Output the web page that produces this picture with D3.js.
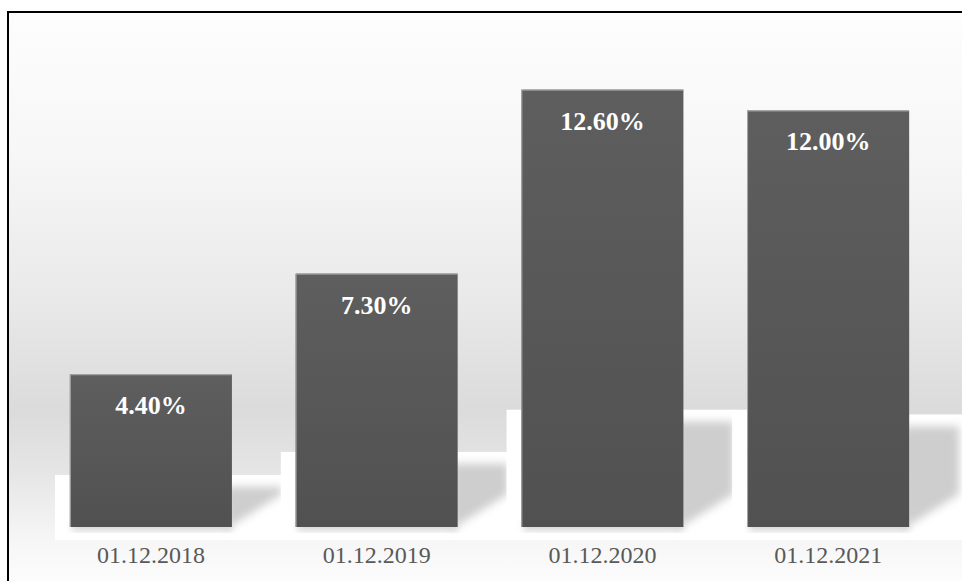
<!DOCTYPE html>
<html>
<head>
<meta charset="utf-8">
<script src="https://cdn.jsdelivr.net/npm/d3@7"></script>
<style>
  html, body { margin: 0; padding: 0; background: #fff; overflow: hidden; }
  svg { display: block; }
</style>
</head>
<body>
<svg id="chart"></svg>
<script>
var width = 962
var height = 581

// values
var categories = ["01.12.2018", "01.12.2019", "01.12.2020", "01.12.2021"]
var values = [4.4, 7.3, 12.6, 12.0]
var yDomain = [0, 14]

var baseY = 527

var x = d3.scaleBand()
  .domain(categories)
  .range([38, 941])
  .paddingInner(0.282)
  .paddingOuter(0.141)

var y = d3.scaleLinear()
  .domain(yDomain)
  .range([baseY, 41])

var svg = d3.select("#chart")
  .attr("width", width)
  .attr("height", height)

var defs = svg.append("defs")

// background gradient: light at the top, grey behind the bar bottoms, light again below
var bg = defs.append("linearGradient")
  .attr("id", "bgGrad")
  .attr("gradientUnits", "userSpaceOnUse")
  .attr("x1", 0).attr("y1", 12).attr("x2", 0).attr("y2", height)
var bgStops = [[12, "#fdfdfd"], [150, "#f7f7f7"], [300, "#e9e9e9"], [410, "#dbdbdb"], [470, "#e5e5e5"], [540, "#f6f6f6"], [581, "#fcfcfc"]]
bgStops.forEach(function(s){
  bg.append("stop").attr("offset", (s[0] - 12) / (height - 12)).attr("stop-color", s[1])
})

var barGrad = defs.append("linearGradient")
  .attr("id", "barGrad")
  .attr("x1", 0).attr("y1", 0).attr("x2", 0).attr("y2", 1)
barGrad.append("stop").attr("offset", 0).attr("stop-color", "#5e5e5e")
barGrad.append("stop").attr("offset", 1).attr("stop-color", "#515151")

defs.append("filter")
  .attr("id", "blur")
  .attr("x", "-20%").attr("y", "-20%").attr("width", "140%").attr("height", "140%")
  .append("feGaussianBlur").attr("stdDeviation", 4)

defs.append("filter")
  .attr("id", "blurSmall")
  .attr("x", "-20%").attr("y", "-20%").attr("width", "140%").attr("height", "140%")
  .append("feGaussianBlur").attr("stdDeviation", 3)

svg.append("rect")
  .attr("x", 0).attr("y", 0)
  .attr("width", width).attr("height", height)
  .attr("fill", "#fff")

svg.append("rect")
  .attr("x", 8).attr("y", 12)
  .attr("width", width).attr("height", height)
  .attr("fill", "url(#bgGrad)")

// floor backdrop + cast shadow for each bar, drawn in order so the next backdrop covers the previous shadow
function floorTop(v){
  var h = baseY - y(v)
  return baseY - 17 - 0.23 * h
}

categories.forEach(function(c, i){
  var left = x(c)
  var right = left + x.bandwidth()
  var top = floorTop(values[i])

  defs.append("clipPath")
    .attr("id", "floorClip" + i)
    .append("rect")
    .attr("x", left - 15).attr("y", top)
    .attr("width", x.bandwidth() + 15 + 70).attr("height", 540 - top)

  var g = svg.append("g").attr("clip-path", "url(#floorClip" + i + ")")

  g.append("rect")
    .attr("x", left - 15).attr("y", top)
    .attr("width", x.bandwidth() + 15 + 70).attr("height", 540 - top)
    .attr("fill", "#ffffff")

  var sTop = top + 12
  var pts = [[right - 6, sTop], [right + 50, sTop], [right + 50, 494], [right - 6, baseY + 2]]
  g.append("polygon")
    .attr("points", pts.map(function(p){ return p.join(",") }).join(" "))
    .attr("fill", "#cecece")
    .attr("filter", "url(#blur)")

  // soft shadow under the bar
  g.append("rect")
    .attr("x", left + 2).attr("y", baseY - 6)
    .attr("width", x.bandwidth() - 2).attr("height", 10)
    .attr("fill", "#d8d8d8")
    .attr("filter", "url(#blurSmall)")
})

// bars
var bars = svg.append("g")
  .selectAll("g")
  .data(values)
  .enter()
  .append("g")

bars.append("rect")
  .attr("x", function(d, i){ return x(categories[i]) })
  .attr("y", function(d){ return y(d) })
  .attr("width", x.bandwidth())
  .attr("height", function(d){ return baseY - y(d) })
  .attr("fill", "url(#barGrad)")

// light edge on top and left side
bars.append("path")
  .attr("d", function(d, i){
    var l = x(categories[i]) + 0.5
    var t = y(d) + 0.5
    return "M" + l + "," + baseY + "V" + t + "H" + (x(categories[i]) + x.bandwidth())
  })
  .attr("fill", "none")
  .attr("stroke", "#a9a9a9")
  .attr("stroke-width", 1)

bars.append("text")
  .attr("x", function(d, i){ return x(categories[i]) + x.bandwidth() / 2 })
  .attr("y", function(d){ return y(d) + 40 })
  .attr("text-anchor", "middle")
  .attr("font-family", "'Liberation Serif', 'Times New Roman', serif")
  .attr("font-weight", "bold")
  .attr("font-size", 26)
  .attr("fill", "#ffffff")
  .text(function(d){ return d3.format(".2f")(d) + "%" })

// category axis
var xAxis = svg.append("g")
  .attr("transform", "translate(0," + baseY + ")")
  .call(d3.axisBottom(x).tickSize(0).tickPadding(36))
xAxis.select(".domain").remove()
xAxis.selectAll("text")
  .attr("font-family", "'Liberation Serif', 'Times New Roman', serif")
  .attr("font-size", 24)
  .attr("fill", "#595959")
  .attr("dy", 0)

// outer frame
svg.append("rect")
  .attr("x", 8).attr("y", 12)
  .attr("width", width + 20).attr("height", height + 20)
  .attr("fill", "none")
  .attr("stroke", "#000")
  .attr("stroke-width", 2)
</script>
</body>
</html>
